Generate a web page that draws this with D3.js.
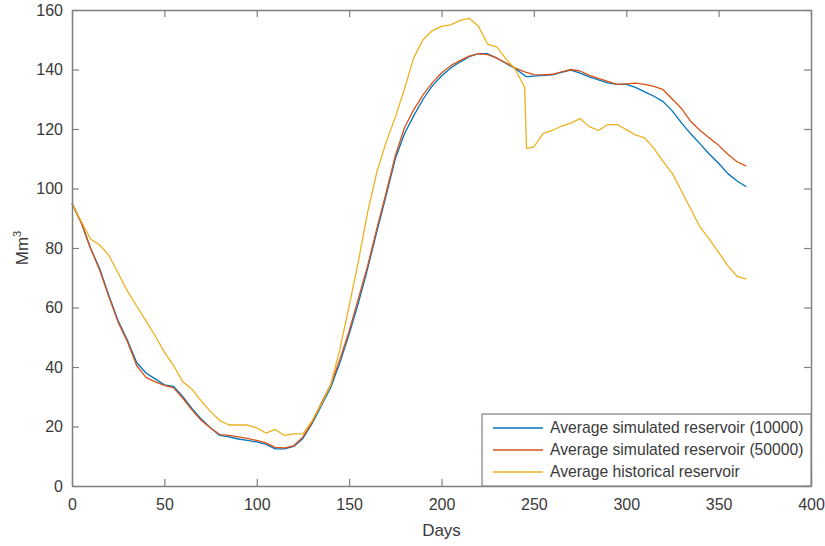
<!DOCTYPE html>
<html>
<head>
<meta charset="utf-8">
<script src="https://cdn.jsdelivr.net/npm/d3@7"></script>
<style>
  body { margin: 0; background: #fff; }
  text { font-family: "Liberation Sans", Arial, sans-serif; }
</style>
</head>
<body>
<div id="chart"></div>
<script>

// Days (shared by every series)
const days = [0, 5, 10, 15, 20, 25, 30, 35, 40, 45, 50, 55, 60, 65, 70, 75, 80, 85, 90, 95,
    100, 105, 110, 115, 120, 125, 130, 135, 140, 145, 150, 155, 160, 165, 170, 175, 180, 185, 190, 195,
    200, 205, 210, 215, 220, 225, 230, 235, 240, 245, 246, 250, 255, 260, 265, 270, 275, 280, 285, 290,
    295, 300, 305, 310, 315, 320, 325, 330, 335, 340, 345, 350, 355, 360, 365];

const sim10000 = [95, 88.5, 80, 73, 64, 55.5, 49, 41.5, 38, 36, 34, 33.5, 30, 26, 22.5, 19.5, 17, 16.5, 15.8, 15.3,
    14.8, 14, 12.5, 12.5, 13.3, 16, 21, 27, 33, 41.5, 51, 61.5, 73, 85.5, 97.5, 110, 118.5, 124.5, 130, 134.5,
    137.8, 140.5, 142.5, 144.3, 145.3, 145.3, 143.8, 142, 140.3, 138, 137.6, 137.8, 138, 138.2, 139, 139.8, 138.8, 137.5, 136.5, 135.5,
    135, 135, 134, 132.5, 131, 129.2, 126, 122, 118.3, 115, 111.5, 108.5, 105, 102.5, 100.6];

const sim50000 = [95, 88.5, 80, 72.5, 63.5, 55, 48.5, 40.5, 36.5, 35, 33.8, 33, 29.5, 25.5, 22, 19.5, 17.3, 17, 16.5, 16,
    15.3, 14.5, 13, 12.8, 13.5, 16.5, 21.5, 28, 34, 42.5, 52, 63, 74, 86.5, 98.5, 111, 120.5, 126.5, 131.5, 135.5,
    138.8, 141.3, 143, 144.5, 145.3, 145, 143.8, 142.2, 140.5, 139.2, 139, 138.3, 138.2, 138.4, 139.2, 140, 139.5, 138, 137, 136,
    135, 135.2, 135.4, 135, 134.3, 133.2, 130, 126.8, 122.5, 119.5, 117, 114.5, 111.5, 109, 107.5];

const historical = [95, 89, 83, 81, 77.5, 71.5, 65.5, 60.5, 55.5, 50.5, 45, 40.5, 35, 32.5, 28.5, 25, 22, 20.5, 20.5, 20.5,
    19.5, 17.8, 19, 17, 17.5, 17.5, 22, 27.5, 34, 46, 60.5, 75.5, 92, 105.5, 115.5, 124, 133.5, 144, 150, 153,
    154.5, 155, 156.5, 157.2, 154.5, 148.5, 147.5, 143.5, 140, 134, 113.5, 114, 118.5, 119.5, 121, 122, 123.5, 120.8, 119.5, 121.5,
    121.5, 119.8, 118, 117, 113.5, 109, 105, 99, 93, 87, 83, 78.5, 74, 70.5, 69.5];

const seriesNames = ["Average simulated reservoir (10000)", "Average simulated reservoir (50000)", "Average historical reservoir"];
const seriesColors = ["#0072BD", "#D95319", "#EDB120"];

const xTicks = [0, 50, 100, 150, 200, 250, 300, 350, 400];
const yTicks = [0, 20, 40, 60, 80, 100, 120, 140, 160];

// Set the dimensions
let margin = { top: 10, left: 72, right: 14, bottom: 60 },
    width = 825 - margin.left - margin.right,
    height = 546 - margin.top - margin.bottom;

let svg = d3.select("#chart")
    .append("svg")
    .attr("width", 825)
    .attr("height", 546)
    .append("g")
    .attr("transform", "translate(" + margin.left + "," + margin.top + ")");

let x = d3.scaleLinear().domain([0, 400]).range([0, width]);
let y = d3.scaleLinear().domain([0, 160]).range([height, 0]);

const axisColor = "#808080";
const labelColor = "#3a3a3a";

// Lines
let allSeries = [sim10000, sim50000, historical];
let line = d3.line()
    .x((d, i) => x(days[i]))
    .y(d => y(d));

allSeries.forEach((s, k) => {
    svg.append("path")
        .datum(s)
        .attr("fill", "none")
        .attr("stroke", seriesColors[k])
        .attr("stroke-width", 1.3)
        .attr("stroke-linejoin", "round")
        .attr("d", line);
});

// Axes with inward ticks on all four sides
function styleAxis(g) {
    g.select(".domain").attr("stroke", axisColor).attr("stroke-width", 1.5);
    g.selectAll(".tick line").attr("stroke", axisColor).attr("stroke-width", 1.2);
    g.selectAll(".tick text").attr("fill", labelColor).style("font-size", "16px");
}

svg.append("g")
    .attr("transform", "translate(0," + height + ")")
    .call(d3.axisBottom(x).tickValues(xTicks).tickSizeInner(-7).tickSizeOuter(0).tickPadding(13))
    .call(styleAxis);

svg.append("g")
    .call(d3.axisTop(x).tickValues(xTicks).tickSizeInner(-7).tickSizeOuter(0).tickFormat(""))
    .call(styleAxis);

svg.append("g")
    .call(d3.axisLeft(y).tickValues(yTicks).tickSizeInner(-7).tickSizeOuter(0).tickPadding(9))
    .call(styleAxis);

svg.append("g")
    .attr("transform", "translate(" + width + ",0)")
    .call(d3.axisRight(y).tickValues(yTicks).tickSizeInner(-7).tickSizeOuter(0).tickFormat(""))
    .call(styleAxis);

// Axis labels
svg.append("text")
    .attr("x", width / 2)
    .attr("y", height + 50)
    .attr("text-anchor", "middle")
    .attr("fill", labelColor)
    .style("font-size", "17px")
    .text("Days");

let yLabel = svg.append("text")
    .attr("transform", "translate(-44," + (height / 2) + ") rotate(-90)")
    .attr("text-anchor", "middle")
    .attr("fill", labelColor)
    .style("font-size", "17px");
yLabel.append("tspan").text("Mm");
yLabel.append("tspan").attr("dy", -7).style("font-size", "11px").text("3");

// Legend
let legendW = 329, legendH = 72;
let legend = svg.append("g")
    .attr("transform", "translate(" + (width - legendW) + "," + (height - legendH) + ")");

legend.append("rect")
    .attr("width", legendW)
    .attr("height", legendH)
    .attr("fill", "#fff")
    .attr("stroke", axisColor)
    .attr("stroke-width", 1.2);

seriesNames.forEach((name, k) => {
    let ly = 14 + k * 22;
    legend.append("line")
        .attr("x1", 11).attr("x2", 61)
        .attr("y1", ly).attr("y2", ly)
        .attr("stroke", seriesColors[k])
        .attr("stroke-width", 1.5);
    legend.append("text")
        .attr("x", 68)
        .attr("y", ly + 5)
        .attr("fill", labelColor)
        .style("font-size", "15.7px")
        .text(name);
});

</script>
</body>
</html>
